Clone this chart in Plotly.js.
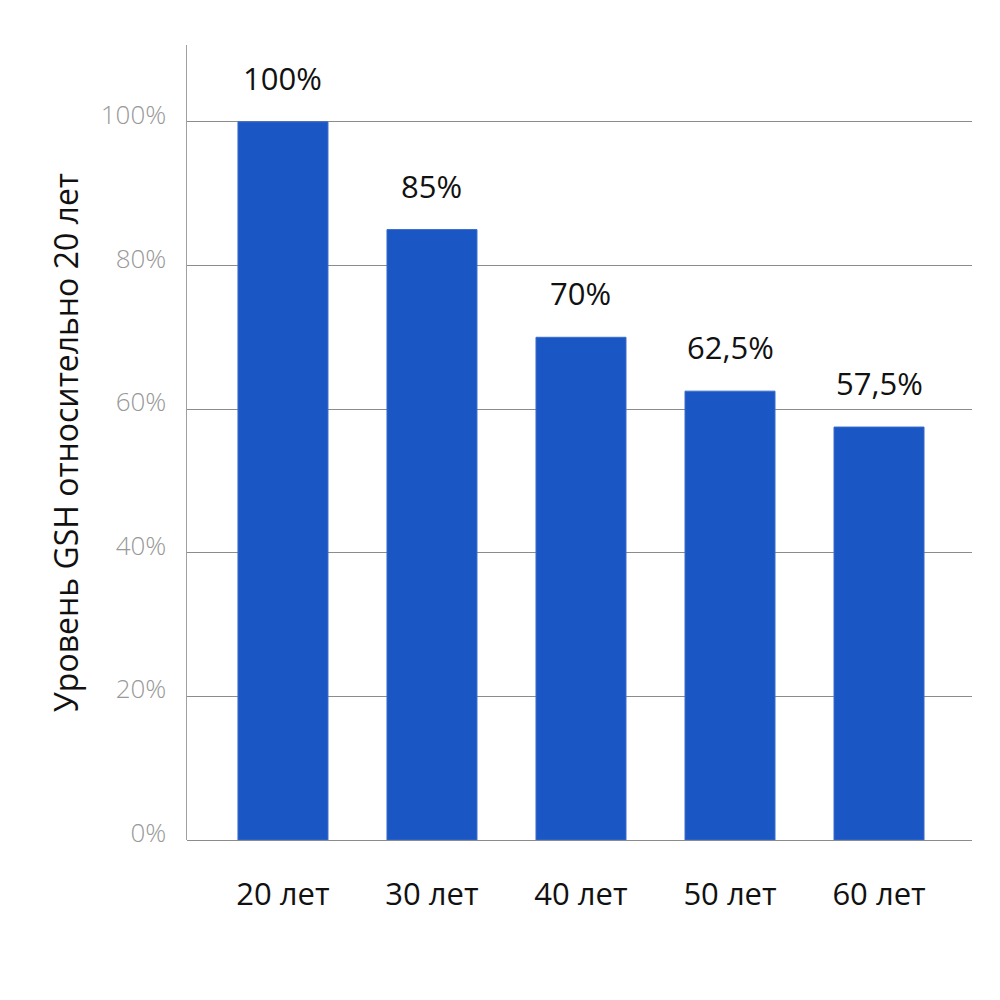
<!DOCTYPE html>
<html>
<head>
<meta charset="utf-8">
<script src="https://cdn.plot.ly/plotly-3.0.1.min.js"></script>
<style>html,body{margin:0;padding:0;background:#fff}#chart{width:1000px;height:1000px}</style>
</head>
<body>
<div id="chart"></div>
<script>
const categories = ["20 лет", "30 лет", "40 лет", "50 лет", "60 лет"];
const values = [100, 85, 70, 62.5, 57.5];
const valueLabels = ["100%", "85%", "70%", "62,5%", "57,5%"];
const tickValues = [0, 20, 40, 60, 80, 100];
const tickLabels = ["0%", "20%", "40%", "60%", "80%", "100%"];

const FONT = "Open Sans, Lato, sans-serif";

const trace = {
  type: "bar",
  x: categories,
  y: values,
  width: 0.604,
  marker: {color: "#1a56c4", line: {color: "#3a6ccd", width: 1}},
  hoverinfo: "skip"
};

const annotations = categories.map((c, i) => ({
  x: c, y: values[i], xref: "x", yref: "y",
  text: valueLabels[i], showarrow: false,
  yanchor: "middle", yshift: 44,
  font: {family: FONT, size: 31, color: "#111"}
}));

const layout = {
  width: 1000, height: 1000,
  margin: {l: 187, r: 28, t: 45, b: 160},
  paper_bgcolor: "#fff", plot_bgcolor: "#fff",
  showlegend: false,
  xaxis: {
    type: "category",
    range: [-0.644, 4.624],
    showgrid: false, zeroline: false, showline: false,
    ticks: "",
    ticklabelstandoff: 33,
    tickfont: {family: FONT, size: 31, color: "#111"}
  },
  yaxis: {
    range: [0, 110.7],
    tickvals: tickValues, ticktext: tickLabels,
    showgrid: true, gridcolor: "#8c8c8c", gridwidth: 1,
    zeroline: true, zerolinecolor: "#8c8c8c", zerolinewidth: 1,
    showline: true, linecolor: "#a0a0a0", linewidth: 1.5,
    ticks: "",
    ticklabelshift: -7,
    ticklabelstandoff: 14,
    tickfont: {family: FONT, size: 26, color: "#999", weight: 300},
    title: {text: "Уровень GSH относительно 20 лет", font: {family: FONT, size: 32, color: "#111"}, standoff: 12}
  },
  annotations: annotations
};

Plotly.newPlot("chart", [trace], layout, {displayModeBar: false, staticPlot: true});
</script>
</body>
</html>
